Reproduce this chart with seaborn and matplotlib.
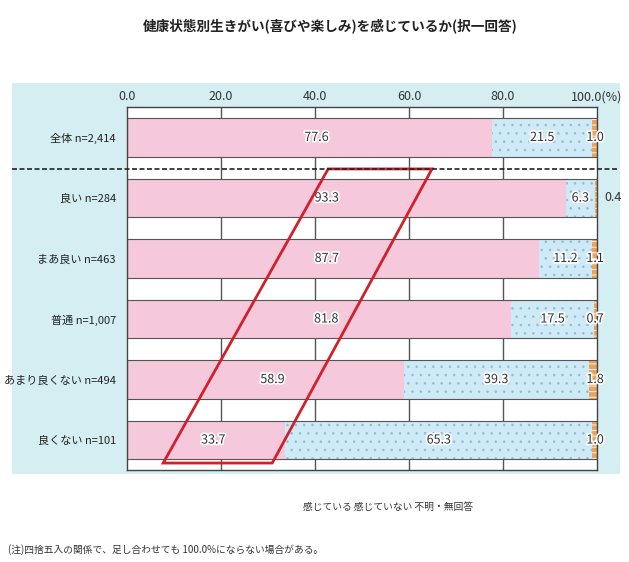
import matplotlib
matplotlib.use('Agg')
import matplotlib.pyplot as plt
import matplotlib.patheffects as pe
from matplotlib.patches import Rectangle, Polygon
from matplotlib.lines import Line2D
import seaborn as sns
import pandas as pd

groups = ['全体 n=2,414', '良い n=284', 'まあ良い n=463', '普通 n=1,007',
          'あまり良くない n=494', '良くない n=101']
feel_yes = [77.6, 93.3, 87.7, 81.8, 58.9, 33.7]
feel_no = [21.5, 6.3, 11.2, 17.5, 39.3, 65.3]
unknown = [1.0, 0.4, 1.1, 0.7, 1.8, 1.0]
tick_vals = [0, 20, 40, 60, 80, 100]
tick_labels = ['0.0', '20.0', '40.0', '60.0', '80.0', '100.0(%)']
# red highlight shape (data coords)
box_x = [42.8, 64.9, 30.9, 7.7]
box_y = [0.52, 0.52, 5.38, 5.38]

df = pd.DataFrame({'group': groups, 'yes': feel_yes, 'no': feel_no, 'unk': unknown})
df['total'] = 100.0
df['yes_no'] = 100.0 - df['unk']

sns.set_theme(style='white')
plt.rcParams['font.family'] = ['Noto Sans CJK JP', 'DejaVu Sans']
plt.rcParams['hatch.linewidth'] = 0.6

pink = '#F6C8DB'
blue = '#CDEAF6'
dots = '#94BCD2'
orange = '#E9A35C'
edge = '#555555'

fig = plt.figure(figsize=(6.29, 5.62), dpi=100)
fig.patches.append(Rectangle((12 / 629, 1 - 474 / 562), 608 / 629, 391 / 562,
                             transform=fig.transFigure, facecolor='#D5EEF1',
                             edgecolor='none', zorder=-5))
ax = fig.add_axes([127 / 629, 1 - 470.3 / 562, 470 / 629, 363.1 / 562])
ax.set_facecolor('white')

w = 0.63
sns.barplot(data=df, x='total', y='group', orient='h', color=orange, saturation=1,
            width=w, edgecolor='white', hatch='---', linewidth=0, ax=ax)
sns.barplot(data=df, x='yes_no', y='group', orient='h', color=blue, saturation=1,
            width=w, edgecolor=dots, hatch='..', linewidth=0, ax=ax)
sns.barplot(data=df, x='yes', y='group', orient='h', color=pink, saturation=1,
            width=w, linewidth=0, ax=ax)
# outlines
sns.barplot(data=df, x='total', y='group', orient='h', fill=False, saturation=1,
            width=w, edgecolor=edge, linewidth=0.8, ax=ax)

ax.set_xlim(0, 100)
ax.set_ylim(5.5, -0.5)
ax.set_axisbelow(True)
for v in tick_vals[1:-1]:
    ax.axvline(v, color=edge, lw=1, zorder=0)
ax.xaxis.tick_top()
ax.set_xticks(tick_vals)
ax.set_xticklabels(tick_labels, fontsize=9, color='#333333')
ax.tick_params(axis='both', length=0, pad=3)
ax.tick_params(axis='y', labelsize=8, labelcolor='#222222', pad=8)
ax.set_xlabel('')
ax.set_ylabel('')
for s in ax.spines.values():
    s.set_color('#444444')
    s.set_linewidth(1)

halo = [pe.withStroke(linewidth=2.5, foreground='white')]
for i in range(len(groups)):
    ax.text(min(feel_yes[i] / 2 + 1.5, 42.5), i, f'{feel_yes[i]:.1f}', ha='center',
            va='center', fontsize=9, color='#333333', path_effects=halo)
    ax.text(feel_yes[i] + feel_no[i] / 2, i, f'{feel_no[i]:.1f}', ha='center', va='center',
            fontsize=9, color='#333333', path_effects=halo)
    if unknown[i] < 0.5:
        ax.text(101.5, i, f'{unknown[i]:.1f}', ha='left', va='center',
                fontsize=9, color='#333333', clip_on=False)
    else:
        ax.text(99.6, i, f'{unknown[i]:.1f}', ha='center', va='center',
                fontsize=9, color='#333333', path_effects=halo)

ax.add_patch(Polygon(list(zip(box_x, box_y)), closed=True, fill=False,
                     edgecolor='#D0202A', linewidth=2, clip_on=False, zorder=5))

fig.add_artist(Line2D([12 / 629, 617 / 629], [1 - 169 / 562, 1 - 169 / 562],
                      color='#222222', lw=1.2, ls=(0, (3, 1.5))))

fig.text(330 / 629, 1 - 27 / 562, '健康状態別生きがい(喜びや楽しみ)を感じているか(択一回答)',
         ha='center', va='center', fontsize=9.8, fontweight='bold', color='#222222')
fig.text(388 / 629, 1 - 507 / 562, '感じている 感じていない 不明・無回答',
         ha='center', va='center', fontsize=7, color='#333333')
fig.text(8 / 629, 1 - 550 / 562, '(注)四捨五入の関係で、足し合わせても 100.0%にならない場合がある。',
         ha='left', va='center', fontsize=7, color='#333333')

fig.savefig('out.png', dpi=100)
